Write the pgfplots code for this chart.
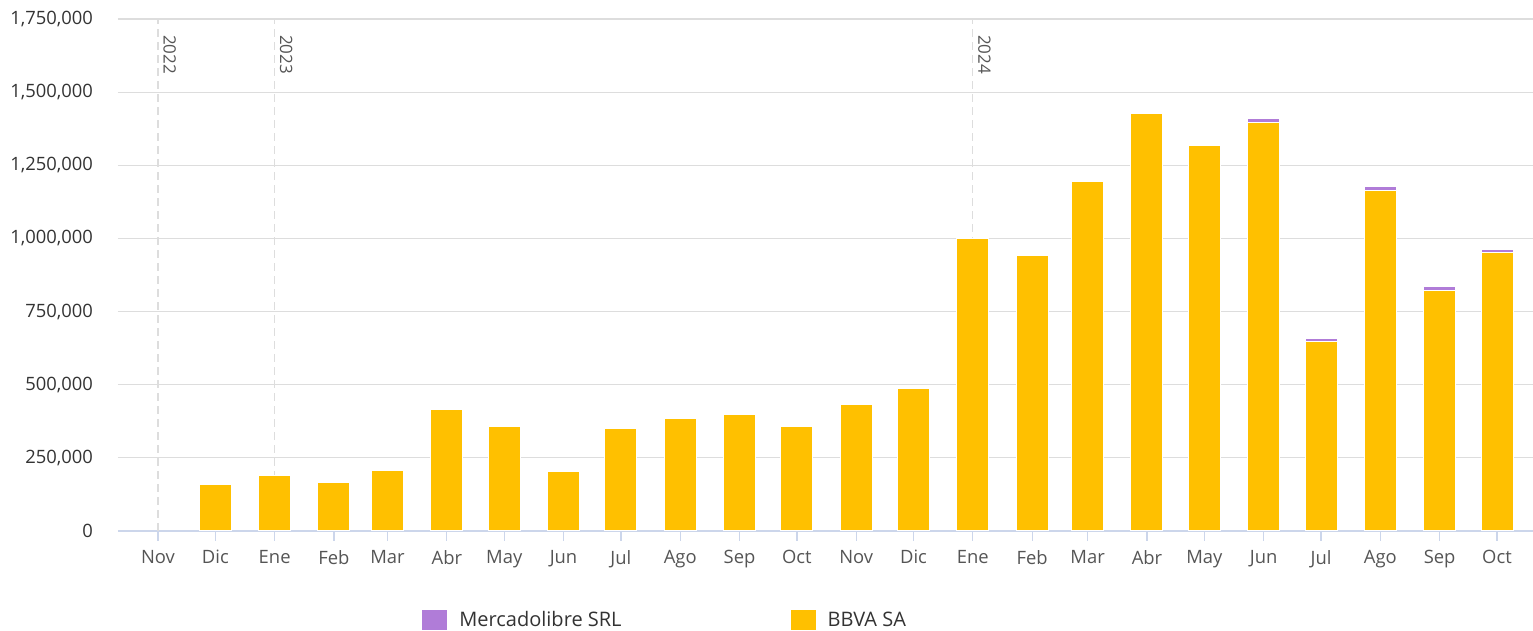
\documentclass[border=0pt]{standalone}
\usepackage{pgfplots}
\pgfplotsset{compat=1.18}
\usepackage{pgfplotstable}
\usepackage{fontspec}
\setmainfont{Open Sans}
\definecolor{bbva}{HTML}{FFC000}
\definecolor{meli}{HTML}{B07CD8}
\definecolor{gridc}{HTML}{DDDDDD}
\definecolor{axc}{HTML}{CCD6EB}
\definecolor{ylab}{HTML}{333333}
\definecolor{xlab}{HTML}{555555}
\pgfplotstableread{
x bbva meli
30 160000 0
61 189000 0
92 167000 0
120 208000 0
151 414000 0
181 356000 0
212 202000 0
242 350000 0
273 384000 0
304 397000 0
334 356000 0
365 431000 0
395 486000 0
426 999000 0
457 942000 0
486 1195000 0
517 1427000 0
547 1318000 0
578 1395000 14000
608 647000 10000
639 1163000 14000
670 821000 14000
700 951000 10000
}\datatable
\begin{document}
\begin{tikzpicture}
\begin{axis}[
  scale only axis,
  width=707.5pt, height=256pt,
  xmin=-20.9, xmax=718.8,
  ymin=0, ymax=1750000,
  ybar stacked, bar width=16.7,
  ytick={0,250000,...,1750000},
  scaled y ticks=false,
  yticklabel style={/pgf/number format/fixed, /pgf/number format/1000 sep={,}, /pgf/number format/assume math mode=true,
    font=\fontsize{9.2}{11}\selectfont, text=ylab, xshift=-4pt},
  xtick={0,30,61,92,120,151,181,212,242,273,304,334,365,395,426,457,486,517,547,578,608,639,670,700},
  xticklabels={Nov,Dic,Ene,Feb,Mar,Abr,May,Jun,Jul,Ago,Sep,Oct,Nov,Dic,Ene,Feb,Mar,Abr,May,Jun,Jul,Ago,Sep,Oct},
  xticklabel style={font=\fontsize{9.2}{11}\selectfont, text=xlab, yshift=-1pt},
  extra x ticks={0,61,426},
  extra x tick labels={},
  extra x tick style={grid=major, major grid style={dash pattern=on 4pt off 2.5pt, color=gridc, line width=0.6pt}, major tick length=0pt},
  ymajorgrids, major grid style={color=gridc, line width=0.6pt},
  axis x line*=bottom, axis y line*=left,
  x axis line style={color=axc, line width=0.6pt, -},
  y axis line style={draw=none},
  x tick style={color=axc, line width=0.6pt},
  major tick length=5pt,
  tick align=outside,
  y tick style={draw=none},
  clip=false,
  legend columns=2,
  reverse legend,
  legend style={at={(0.2148,-0.1484)}, anchor=north west, draw=none, fill=none,
    font=\fontsize{10}{12}\selectfont, text=ylab, inner sep=0pt,
    /tikz/every odd column/.append style={column sep=4pt},
    /tikz/every even column/.append style={column sep=82.5pt}},
  legend cell align=left,
  legend image code/.code={\fill[#1, draw=none] (0pt,-5pt) rectangle (12.5pt,5pt);},
]
\addplot[fill=bbva, draw=white, line width=0.5pt] table[x=x, y=bbva] {\datatable};
\addlegendentry{BBVA SA}
\addplot[fill=meli, draw=white, line width=0.5pt] table[x=x, y=meli] {\datatable};
\addlegendentry{Mercadolibre SRL}
\node[rotate=-90, anchor=south west, inner sep=0pt, font=\fontsize{8.5}{10}\selectfont, text=xlab] at ([xshift=2.5pt]axis cs:0,1696000) {2022};
\node[rotate=-90, anchor=south west, inner sep=0pt, font=\fontsize{8.5}{10}\selectfont, text=xlab] at ([xshift=2.5pt]axis cs:61,1696000) {2023};
\node[rotate=-90, anchor=south west, inner sep=0pt, font=\fontsize{8.5}{10}\selectfont, text=xlab] at ([xshift=2.5pt]axis cs:426,1696000) {2024};
\end{axis}
\pgfresetboundingbox
\path (current axis.south west) ++(-59pt,-50pt) rectangle ++(766.5pt,315.5pt);
\end{tikzpicture}
\end{document}
